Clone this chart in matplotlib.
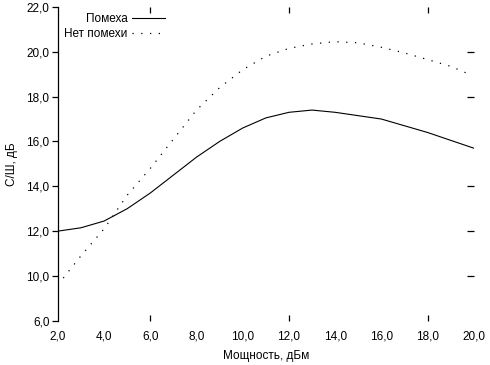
import matplotlib
matplotlib.use("Agg")
import matplotlib.pyplot as plt

plt.rcParams['font.family'] = ['Liberation Sans', 'DejaVu Sans']

# power, dBm
power = [2, 3, 4, 5, 6, 7, 8, 9, 10, 11, 12, 13, 14, 15, 16, 17, 18, 19, 20]
# SNR with interference
snr_noise = [12.0, 12.15, 12.45, 13.0, 13.7, 14.5, 15.3, 16.0, 16.6, 17.05,
             17.3, 17.4, 17.3, 17.15, 17.0, 16.7, 16.4, 16.05, 15.7]
# SNR without interference
power_clean = [2, 3, 4, 5, 6, 7, 8, 9, 10, 11, 12, 13, 14, 15, 16, 17, 18, 19, 19.8]
snr_clean = [9.6, 10.9, 12.1, 13.6, 14.8, 16.1, 17.4, 18.4, 19.2, 19.8,
             20.15, 20.35, 20.45, 20.4, 20.2, 19.95, 19.65, 19.35, 19.0]

xticks = [2, 4, 6, 8, 10, 12, 14, 16, 18, 20]
xlabels = ["2,0", "4,0", "6,0", "8,0", "10,0", "12,0", "14,0", "16,0", "18,0", "20,0"]
yticks = [8, 10, 12, 14, 16, 18, 20, 22]
ylabels = ["6,0", "10,0", "12,0", "14,0", "16,0", "18,0", "20,0", "22,0"]

fs = 8.5

fig = plt.figure(figsize=(4.9, 3.65), dpi=100)
ax = fig.add_axes([0.118, 0.121, 0.849, 0.860])

ax.plot(power, snr_noise, color="black", lw=0.8, label="Помеха")
ax.plot(power_clean, snr_clean, color="black", lw=0.9,
        linestyle=(0, (1, 6)), label="Нет помехи")

ax.set_xlim(2, 20)
ax.set_ylim(8, 22)

for s in ["top", "right", "bottom"]:
    ax.spines[s].set_visible(False)
ax.spines["left"].set_linewidth(0.9)

ax.set_xticks(xticks)
ax.set_xticklabels(xlabels, fontsize=fs)
ax.set_yticks(yticks)
ax.set_yticklabels(ylabels, fontsize=fs)
ax.tick_params(axis="x", which="major", length=0, pad=7)
ax.tick_params(axis="y", which="major", direction="out", length=4, width=0.9, pad=2)

# small inner ticks
ax.xaxis.remove_overlapping_locs = False
ax.yaxis.remove_overlapping_locs = False
ax.set_xticks([6, 12, 18], minor=True)
ax.set_yticks([10, 12, 14, 18, 20], minor=True)
ax.tick_params(axis="x", which="minor", top=True, bottom=True,
               direction="in", length=4, width=0.9)
ax.tick_params(axis="y", which="minor", left=False, right=True,
               direction="in", length=5, width=0.9)

ax.set_xlabel("Мощность, дБм", fontsize=fs, labelpad=5)
ax.set_ylabel("С/Ш, дБ", fontsize=fs, labelpad=6)

ax.legend(loc="upper left", bbox_to_anchor=(0.0, 1.0), frameon=False,
          markerfirst=False, fontsize=fs, handlelength=2.8,
          handletextpad=0.4, labelspacing=0.25, borderaxespad=0.15)

fig.savefig("out.png", dpi=100)
